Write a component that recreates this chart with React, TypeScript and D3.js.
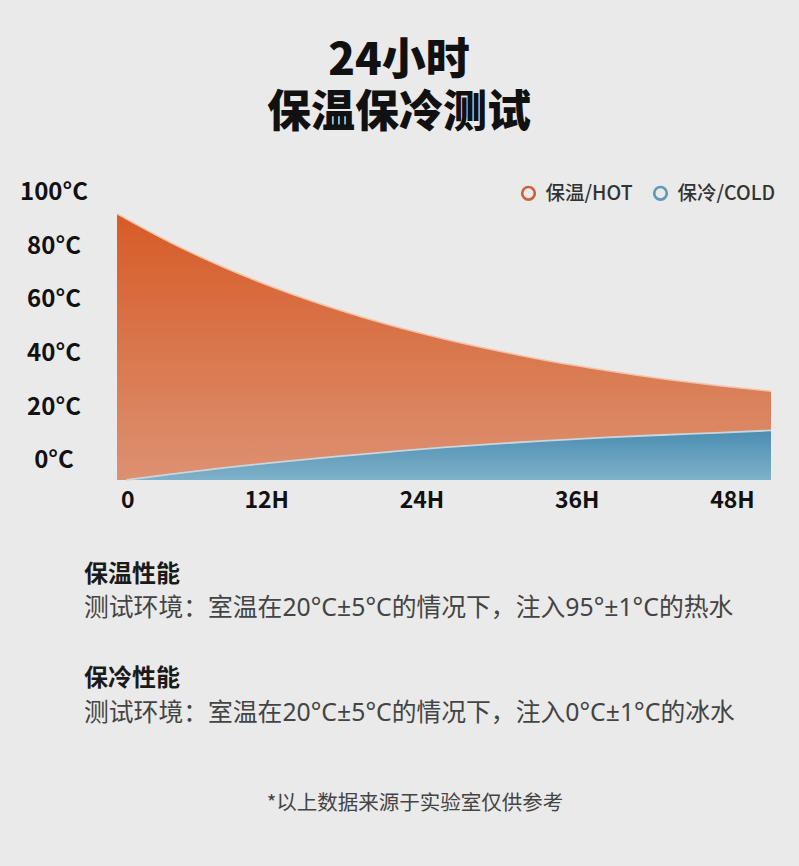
import React from 'react';
import * as d3 from 'd3';

const hours = [0, 4, 8, 12, 16, 20, 24, 28, 32, 36, 40, 44, 48];
const hotTemps = [99.3, 88.4, 79.0, 70.9, 63.9, 57.8, 52.6, 48.1, 44.1, 40.8, 37.8, 35.3, 33.1];
const coldHours = [0.7, 4, 8, 12, 16, 20, 24, 28, 32, 36, 40, 44, 48];
const coldTemps = [0, 2.2, 4.6, 6.8, 8.7, 10.5, 12.2, 13.6, 14.8, 15.9, 16.8, 17.6, 18.5];
const yTicks = [100, 80, 60, 40, 20, 0];
const xTicks = [0, 12, 24, 36, 48];
const xTickLabels = ['0', '12H', '24H', '36H', '48H'];
const legendLabels = ['保温/HOT', '保冷/COLD'];
const titleLines = ['24小时', '保温保冷测试'];
const noteHeadings = ['保温性能', '保冷性能'];
const noteTexts = [
  '测试环境：室温在20°C±5°C的情况下，注入95°±1°C的热水',
  '测试环境：室温在20°C±5°C的情况下，注入0°C±1°C的冰水',
];
const footnote = '*以上数据来源于实验室仅供参考';

const W = 799;
const H = 866;
const FONT = '"Noto Sans CJK SC", "Noto Sans", sans-serif';
const MIXED = '"Noto Sans", "Noto Sans CJK SC", sans-serif';

export default function App() {
  const x = d3.scaleLinear().domain([0, 48]).range([117, 771]);
  const y = d3.scaleLinear().domain([0, 100]).range([480, 212]);
  const xLab = d3.scaleLinear().domain([12, 48]).range([266.7, 732.5]);

  const hotData = hours.map((h, i) => ({ h, v: hotTemps[i] }));
  const coldData = coldHours.map((h, i) => ({ h, v: coldTemps[i] }));

  const area = d3
    .area<{ h: number; v: number }>()
    .x((d) => x(d.h))
    .y0(y(0))
    .y1((d) => y(d.v))
    .curve(d3.curveMonotoneX);
  const line = d3
    .line<{ h: number; v: number }>()
    .x((d) => x(d.h))
    .y((d) => y(d.v))
    .curve(d3.curveMonotoneX);

  const legendColors = ['#c9643e', '#5d99b9'];
  const legendX = [528.5, 660.5];

  return (
    <svg
      width={W}
      height={H}
      style={{ position: 'absolute', left: 0, top: 0, fontFamily: FONT }}
    >
      <defs>
        <linearGradient id="hotGrad" gradientUnits="userSpaceOnUse" x1="0" y1={y(100)} x2="0" y2={y(0)}>
          <stop offset="0" stopColor="#d85a27" />
          <stop offset="0.5" stopColor="#d9764b" />
          <stop offset="1" stopColor="#dd9172" />
        </linearGradient>
        <linearGradient id="coldGrad" gradientUnits="userSpaceOnUse" x1="0" y1={y(19)} x2="0" y2={y(0)}>
          <stop offset="0" stopColor="#4a8cb1" />
          <stop offset="1" stopColor="#7fb1c9" />
        </linearGradient>
      </defs>
      <rect x={0} y={0} width={W} height={H} fill="#eaeaea" />

      <text textAnchor="middle" fontSize={44} fontWeight={900} fill="#111">
        {titleLines.map((t, i) => (
          <tspan key={t} x={399} y={i === 0 ? 75 : 127}>
            {t}
          </tspan>
        ))}
      </text>

      {yTicks.map((v) => (
        <text
          key={v}
          x={54}
          y={y(v) - 20.5}
          dy="0.36em"
          textAnchor="middle"
          fontSize={24}
          fontWeight={700}
          fill="#111"
        >
          {v}°C
        </text>
      ))}

      <path d={area(hotData) || ''} fill="url(#hotGrad)" />
      <path d={line(hotData) || ''} fill="none" stroke="#f3c3a8" strokeWidth={1.5} />
      <path d={area(coldData) || ''} fill="url(#coldGrad)" />
      <path d={line(coldData) || ''} fill="none" stroke="#c9d6dc" strokeWidth={1.8} />

      {xTicks.map((t, i) => (
        <text
          key={t}
          x={i === 0 ? x(0) + 4 : xLab(t)}
          y={500}
          dy="0.36em"
          textAnchor={i === 0 ? 'start' : 'middle'}
          fontSize={23}
          fontWeight={700}
          fill="#111"
        >
          {xTickLabels[i]}
        </text>
      ))}

      {legendLabels.map((l, i) => (
        <g key={l}>
          <circle cx={legendX[i]} cy={193.3} r={6.3} fill="none" stroke={legendColors[i]} strokeWidth={2.7} />
          <text x={legendX[i] + 17} y={193.3} dy="0.36em" fontSize={19.5} fontWeight={500} fill="#333">
            {l}
          </text>
        </g>
      ))}

      {noteHeadings.map((h, i) => (
        <g key={h}>
          <text x={84} y={573 + i * 104} dy="0.36em" fontSize={24} fontWeight={700} fill="#1a1a1a">
            {h}
          </text>
          <text
            x={84}
            y={607 + i * 105}
            dy="0.36em"
            fontSize={24.8}
            fill="#444"
            style={{ fontFamily: MIXED }}
          >
            {noteTexts[i]}
          </text>
        </g>
      ))}

      <text x={415} y={803} dy="0.36em" textAnchor="middle" fontSize={20.5} fill="#444">
        {footnote}
      </text>
    </svg>
  );
}
